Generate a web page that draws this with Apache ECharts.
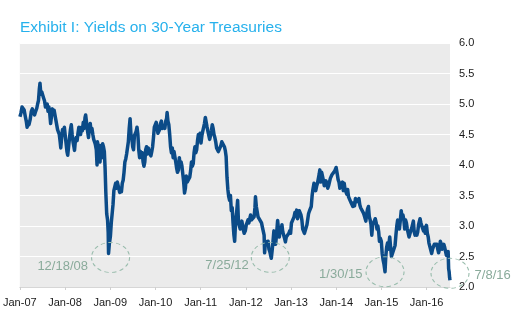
<!DOCTYPE html>
<html>
<head>
<meta charset="utf-8">
<script src="https://cdn.jsdelivr.net/npm/echarts@6/dist/echarts.min.js"></script>
<style>
  html, body { margin: 0; padding: 0; background: #ffffff; }
  #chart { width: 518px; height: 327px; }
</style>
</head>
<body>
<div id="chart"></div>
<script>
// 30-year Treasury yields (%), sampled roughly weekly
const y2007 = [
  ['2007-01-02',4.79],['2007-01-10',4.85],['2007-01-19',4.95],['2007-01-26',4.98],['2007-02-05',4.90],
  ['2007-02-14',4.80],['2007-02-22',4.72],['2007-03-01',4.62],['2007-03-09',4.70],['2007-03-16',4.66],
  ['2007-03-26',4.75],['2007-04-04',4.88],['2007-04-12',4.92],['2007-04-20',4.86],['2007-04-30',4.82],
  ['2007-05-09',4.88],['2007-05-18',4.93],['2007-05-25',5.00],['2007-06-01',5.06],['2007-06-08',5.25],
  ['2007-06-13',5.34],['2007-06-20',5.16],['2007-06-27',5.20],['2007-07-05',5.22],['2007-07-12',5.10],
  ['2007-07-20',5.05],['2007-07-27',4.95],['2007-08-03',4.94],['2007-08-10',5.00],['2007-08-17',4.88],
  ['2007-08-24',4.95],['2007-08-31',4.84],['2007-09-07',4.68],['2007-09-14',4.80],['2007-09-21',4.92],
  ['2007-09-28',4.84],['2007-10-05',4.90],['2007-10-12',4.88],['2007-10-19',4.74],['2007-10-26',4.72],
  ['2007-11-02',4.58],['2007-11-09',4.56],['2007-11-16',4.50],['2007-11-23',4.38],['2007-11-28',4.28],
  ['2007-12-05',4.45],['2007-12-12',4.58],['2007-12-19',4.50],['2007-12-27',4.62]
];
const y2008 = [
  ['2008-01-03',4.48],['2008-01-10',4.35],['2008-01-17',4.22],['2008-01-23',4.16],['2008-01-31',4.32],
  ['2008-02-07',4.45],['2008-02-14',4.58],['2008-02-21',4.66],['2008-02-28',4.50],['2008-03-06',4.38],
  ['2008-03-13',4.30],['2008-03-18',4.24],['2008-03-25',4.40],['2008-04-01',4.45],['2008-04-08',4.40],
  ['2008-04-15',4.52],['2008-04-22',4.62],['2008-04-29',4.56],['2008-05-06',4.50],['2008-05-13',4.62],
  ['2008-05-20',4.56],['2008-05-28',4.70],['2008-06-04',4.60],['2008-06-11',4.78],['2008-06-16',4.82],
  ['2008-06-24',4.68],['2008-07-01',4.56],['2008-07-09',4.45],['2008-07-16',4.60],['2008-07-23',4.68],
  ['2008-07-30',4.55],['2008-08-06',4.60],['2008-08-13',4.50],['2008-08-20',4.42],['2008-08-27',4.38],
  ['2008-09-03',4.33],['2008-09-10',4.25],['2008-09-16',4.00],['2008-09-19',4.38],['2008-09-26',4.32],
  ['2008-10-03',4.10],['2008-10-10',4.05],['2008-10-17',4.32],['2008-10-24',4.12],['2008-10-31',4.35],
  ['2008-11-07',4.30],['2008-11-14',4.22],['2008-11-20',3.95],['2008-11-26',3.55],['2008-12-03',3.20],
  ['2008-12-10',3.10],['2008-12-15',2.90],['2008-12-18',2.55],['2008-12-24',2.70],['2008-12-31',2.68]
];
const y2009 = [
  ['2009-01-02',2.83],['2009-01-09',3.05],['2009-01-16',3.20],['2009-01-23',3.35],['2009-01-30',3.58],
  ['2009-02-06',3.60],['2009-02-13',3.70],['2009-02-20',3.62],['2009-02-27',3.72],['2009-03-06',3.72],
  ['2009-03-13',3.70],['2009-03-18',3.55],['2009-03-25',3.62],['2009-04-01',3.56],['2009-04-08',3.70],
  ['2009-04-15',3.75],['2009-04-22',3.88],['2009-04-29',4.05],['2009-05-06',4.10],['2009-05-13',4.18],
  ['2009-05-20',4.20],['2009-05-27',4.38],['2009-06-03',4.60],['2009-06-10',4.76],['2009-06-17',4.50],
  ['2009-06-24',4.45],['2009-07-01',4.30],['2009-07-08',4.25],['2009-07-15',4.48],['2009-07-22',4.45],
  ['2009-07-29',4.55],['2009-08-05',4.62],['2009-08-12',4.50],['2009-08-19',4.25],['2009-08-26',4.12],
  ['2009-09-02',4.22],['2009-09-09',4.15],['2009-09-16',4.20],['2009-09-23',4.05],['2009-09-30',3.98],
  ['2009-10-07',4.05],['2009-10-14',4.25],['2009-10-21',4.30],['2009-10-28',4.18],['2009-11-04',4.28],
  ['2009-11-11',4.22],['2009-11-18',4.20],['2009-11-25',4.15],['2009-12-02',4.22],['2009-12-09',4.30],
  ['2009-12-16',4.45],['2009-12-23',4.62],['2009-12-31',4.64]
];
const y2010 = [
  ['2010-01-07',4.70],['2010-01-14',4.62],['2010-01-21',4.52],['2010-01-28',4.55],['2010-02-04',4.58],
  ['2010-02-11',4.68],['2010-02-18',4.72],['2010-02-25',4.60],['2010-03-04',4.62],['2010-03-11',4.65],
  ['2010-03-18',4.60],['2010-03-25',4.72],['2010-04-01',4.76],['2010-04-05',4.86],['2010-04-12',4.72],
  ['2010-04-19',4.66],['2010-04-26',4.50],['2010-05-03',4.30],['2010-05-10',4.20],['2010-05-17',4.28],
  ['2010-05-24',4.12],['2010-05-31',4.22],['2010-06-07',4.20],['2010-06-14',4.05],['2010-06-21',3.95],
  ['2010-06-28',3.88],['2010-07-06',3.92],['2010-07-13',4.12],['2010-07-20',3.98],['2010-07-27',4.05],
  ['2010-08-03',3.98],['2010-08-10',3.85],['2010-08-17',3.72],['2010-08-24',3.54],['2010-08-31',3.62],
  ['2010-09-07',3.82],['2010-09-14',3.72],['2010-09-21',3.75],['2010-09-28',3.70],['2010-10-05',3.80],
  ['2010-10-12',3.90],['2010-10-19',4.05],['2010-10-26',3.98],['2010-11-02',4.02],['2010-11-09',4.20],
  ['2010-11-16',4.30],['2010-11-23',4.20],['2010-11-30',4.25],['2010-12-07',4.40],['2010-12-14',4.50],
  ['2010-12-21',4.46],['2010-12-28',4.52]
];
const y2011 = [
  ['2011-01-04',4.36],['2011-01-11',4.48],['2011-01-18',4.55],['2011-01-25',4.58],['2011-02-01',4.68],
  ['2011-02-08',4.78],['2011-02-15',4.70],['2011-02-22',4.62],['2011-03-01',4.55],['2011-03-08',4.58],
  ['2011-03-15',4.42],['2011-03-22',4.48],['2011-03-29',4.56],['2011-04-05',4.66],['2011-04-12',4.60],
  ['2011-04-19',4.50],['2011-04-26',4.45],['2011-05-03',4.38],['2011-05-10',4.28],['2011-05-17',4.25],
  ['2011-05-24',4.22],['2011-05-31',4.20],['2011-06-07',4.22],['2011-06-14',4.32],['2011-06-21',4.38],
  ['2011-06-28',4.40],['2011-07-05',4.36],['2011-07-12',4.30],['2011-07-19',4.24],['2011-07-26',4.14],
  ['2011-08-02',3.80],['2011-08-09',3.60],['2011-08-16',3.48],['2011-08-23',3.42],['2011-08-30',3.50],
  ['2011-09-06',3.25],['2011-09-13',3.30],['2011-09-20',3.05],['2011-09-27',2.85],['2011-10-03',2.75],
  ['2011-10-11',3.10],['2011-10-18',3.20],['2011-10-27',3.42],['2011-11-03',3.05],['2011-11-10',3.00],
  ['2011-11-17',2.95],['2011-11-23',2.92],['2011-11-30',3.08],['2011-12-07',3.05],['2011-12-14',2.92],
  ['2011-12-19',2.88],['2011-12-28',2.92]
];
const y2012 = [
  ['2012-01-05',3.02],['2012-01-12',3.00],['2012-01-19',3.10],['2012-01-26',3.05],['2012-02-02',3.12],
  ['2012-02-09',3.18],['2012-02-16',3.10],['2012-02-23',3.10],['2012-03-01',3.12],['2012-03-08',3.15],
  ['2012-03-15',3.30],['2012-03-19',3.48],['2012-03-26',3.32],['2012-04-02',3.35],['2012-04-09',3.15],
  ['2012-04-16',3.12],['2012-04-23',3.10],['2012-04-30',3.12],['2012-05-07',3.05],['2012-05-14',2.98],
  ['2012-05-21',2.95],['2012-05-28',2.85],['2012-06-01',2.56],['2012-06-08',2.75],['2012-06-15',2.72],
  ['2012-06-22',2.70],['2012-06-29',2.75],['2012-07-06',2.62],['2012-07-13',2.58],['2012-07-20',2.55],
  ['2012-07-25',2.47],['2012-08-01',2.60],['2012-08-08',2.75],['2012-08-15',2.92],['2012-08-22',2.85],
  ['2012-08-29',2.70],['2012-09-05',2.85],['2012-09-14',3.09],['2012-09-21',2.95],['2012-09-28',2.82],
  ['2012-10-05',2.95],['2012-10-12',2.90],['2012-10-19',3.02],['2012-10-26',2.90],['2012-11-02',2.88],
  ['2012-11-09',2.80],['2012-11-16',2.74],['2012-11-23',2.82],['2012-11-30',2.80],['2012-12-07',2.80],
  ['2012-12-14',2.88],['2012-12-21',2.92],['2012-12-28',2.88]
];
const y2013 = [
  ['2013-01-04',3.05],['2013-01-11',3.05],['2013-01-18',3.02],['2013-01-25',3.15],['2013-02-01',3.22],
  ['2013-02-08',3.18],['2013-02-15',3.26],['2013-02-22',3.12],['2013-03-01',3.10],['2013-03-08',3.25],
  ['2013-03-15',3.22],['2013-03-22',3.18],['2013-03-29',3.10],['2013-04-05',2.95],['2013-04-12',2.98],
  ['2013-04-19',2.88],['2013-04-26',2.90],['2013-05-02',2.85],['2013-05-09',3.02],['2013-05-16',3.05],
  ['2013-05-22',3.20],['2013-05-30',3.25],['2013-06-06',3.28],['2013-06-13',3.32],['2013-06-20',3.50],
  ['2013-06-25',3.58],['2013-07-05',3.70],['2013-07-12',3.62],['2013-07-19',3.58],['2013-07-26',3.65],
  ['2013-08-02',3.70],['2013-08-09',3.72],['2013-08-16',3.85],['2013-08-21',3.92],['2013-08-28',3.72],
  ['2013-09-05',3.88],['2013-09-12',3.85],['2013-09-19',3.75],['2013-09-26',3.66],['2013-10-03',3.70],
  ['2013-10-10',3.74],['2013-10-17',3.68],['2013-10-24',3.62],['2013-10-31',3.66],['2013-11-07',3.72],
  ['2013-11-14',3.78],['2013-11-21',3.80],['2013-11-27',3.84],['2013-12-05',3.86],['2013-12-12',3.82],
  ['2013-12-19',3.90],['2013-12-31',3.96]
];
const y2014 = [
  ['2014-01-02',3.95],['2014-01-09',3.85],['2014-01-16',3.76],['2014-01-23',3.72],['2014-01-30',3.62],
  ['2014-02-06',3.68],['2014-02-13',3.70],['2014-02-20',3.72],['2014-02-27',3.58],['2014-03-06',3.70],
  ['2014-03-13',3.60],['2014-03-20',3.62],['2014-03-27',3.52],['2014-04-03',3.60],['2014-04-10',3.48],
  ['2014-04-17',3.50],['2014-04-24',3.45],['2014-05-01',3.38],['2014-05-08',3.40],['2014-05-15',3.32],
  ['2014-05-22',3.38],['2014-05-29',3.33],['2014-06-05',3.45],['2014-06-12',3.47],['2014-06-19',3.40],
  ['2014-06-26',3.38],['2014-07-03',3.45],['2014-07-10',3.35],['2014-07-17',3.30],['2014-07-24',3.32],
  ['2014-07-31',3.28],['2014-08-07',3.22],['2014-08-14',3.18],['2014-08-21',3.20],['2014-08-28',3.08],
  ['2014-09-04',3.20],['2014-09-11',3.28],['2014-09-18',3.32],['2014-09-25',3.15],['2014-10-02',3.10],
  ['2014-10-09',3.02],['2014-10-15',2.85],['2014-10-22',3.02],['2014-10-29',3.05],['2014-11-05',3.08],
  ['2014-11-12',3.12],['2014-11-19',3.06],['2014-11-26',2.95],['2014-12-03',3.00],['2014-12-10',2.90],
  ['2014-12-16',2.75],['2014-12-23',2.80],['2014-12-31',2.75]
];
const y2015 = [
  ['2015-01-07',2.55],['2015-01-14',2.45],['2015-01-21',2.38],['2015-01-30',2.25],['2015-02-05',2.50],
  ['2015-02-12',2.65],['2015-02-19',2.72],['2015-02-26',2.62],['2015-03-05',2.75],['2015-03-09',2.82],
  ['2015-03-16',2.65],['2015-03-23',2.50],['2015-03-31',2.55],['2015-04-07',2.58],['2015-04-14',2.55],
  ['2015-04-21',2.68],['2015-04-28',2.85],['2015-05-05',3.00],['2015-05-12',3.10],['2015-05-19',3.05],
  ['2015-05-26',2.95],['2015-06-02',3.08],['2015-06-10',3.25],['2015-06-17',3.12],['2015-06-24',3.18],
  ['2015-07-01',3.10],['2015-07-08',2.95],['2015-07-15',3.10],['2015-07-22',3.05],['2015-07-29',2.95],
  ['2015-08-05',2.92],['2015-08-12',2.82],['2015-08-19',2.82],['2015-08-26',2.92],['2015-09-02',2.96],
  ['2015-09-09',2.98],['2015-09-16',3.08],['2015-09-23',2.90],['2015-09-30',2.85],['2015-10-07',2.90],
  ['2015-10-14',2.85],['2015-10-21',2.90],['2015-10-28',3.02],['2015-11-04',3.05],['2015-11-09',3.12],
  ['2015-11-16',3.05],['2015-11-23',3.00],['2015-11-30',2.96],['2015-12-07',2.92],['2015-12-14',2.98],
  ['2015-12-21',2.88],['2015-12-31',3.01]
];
const y2016 = [
  ['2016-01-07',2.88],['2016-01-14',2.82],['2016-01-20',2.72],['2016-01-27',2.75],['2016-02-03',2.72],
  ['2016-02-11',2.55],['2016-02-18',2.62],['2016-02-25',2.62],['2016-03-03',2.70],['2016-03-10',2.70],
  ['2016-03-17',2.72],['2016-03-24',2.70],['2016-03-31',2.62],['2016-04-07',2.56],['2016-04-14',2.62],
  ['2016-04-21',2.75],['2016-04-28',2.70],['2016-05-05',2.62],['2016-05-12',2.60],['2016-05-19',2.70],
  ['2016-05-26',2.65],['2016-06-02',2.65],['2016-06-09',2.52],['2016-06-16',2.50],['2016-06-23',2.58],
  ['2016-06-27',2.30],['2016-07-01',2.25],['2016-07-05',2.15],['2016-07-08',2.11]
];

// Annotated lows: [date, yield, label]
const lows = [
  ['2008-12-18', 2.55, '12/18/08'],
  ['2012-07-25', 2.47, '7/25/12'],
  ['2015-01-30', 2.25, '1/30/15'],
  ['2016-07-08', 2.11, '7/8/16']
];

// Year ticks on the date axis
const tickYears = [2007, 2008, 2009, 2010, 2011, 2012, 2013, 2014, 2015, 2016];
const yTicks = { min: 2.0, max: 6.0, step: 0.5 };

// dates -> epoch ms so the x axis can be a plain numeric scale
function toStamp(s) {
  const p = s.split('-').map(Number);
  return new Date(p[0], p[1] - 1, p[2]).getTime();
}
const series = [].concat(y2007, y2008, y2009, y2010, y2011, y2012, y2013, y2014, y2015, y2016)
  .map(d => [toStamp(d[0]), d[1]]);
const tickStamps = tickYears.map(y => new Date(y, 0, 1).getTime());

const noteColor = '#8aab9b';
const ringStyle = {
  color: 'rgba(0,0,0,0)',
  borderColor: '#98bcac',
  borderWidth: 1,
  borderType: [4, 3]
};
// per-note placement of ring and text
const notePlacement = [
  { offset: [2, 4],  labelPos: 'left',  dist: 3, lOff: [0, 9] },
  { offset: [-1, -1], labelPos: 'left', dist: 2, lOff: [0, 8] },
  { offset: [0, 0],  labelPos: 'left',  dist: 3, lOff: [0, 3] },
  { offset: [0, -7], labelPos: 'right', dist: 5, lOff: [0, 2] }
];

const chart = echarts.init(document.getElementById('chart'), null, { renderer: 'canvas' });
chart.setOption({
  animation: false,
  backgroundColor: '#ffffff',
  title: {
    text: 'Exhibit I: Yields on 30-Year Treasuries',
    left: 15,
    top: 15,
    textStyle: {
      fontFamily: 'Liberation Sans',
      fontSize: 15.5,
      fontWeight: 'normal',
      color: '#27b1ec'
    }
  },
  grid: {
    left: 19, right: 68, top: 43, bottom: 40,
    show: true,
    backgroundColor: '#ebebeb',
    borderWidth: 0
  },
  xAxis: {
    type: 'value',
    min: new Date(2007, 0, 1).getTime(),
    max: new Date(2016, 6, 8).getTime(),
    axisLine: { show: true, lineStyle: { color: '#d6d6d6', width: 1 } },
    axisTick: { show: true, customValues: tickStamps, length: 3, lineStyle: { color: '#cfcfcf' } },
    axisLabel: {
      customValues: tickStamps,
      formatter: function (v) {
        const d = new Date(v);
        return 'Jan-' + String(d.getFullYear() % 100).padStart(2, '0');
      },
      fontFamily: 'Liberation Sans',
      fontSize: 11,
      color: '#1a1a1a',
      margin: 10
    },
    splitLine: { show: false }
  },
  yAxis: {
    type: 'value',
    position: 'right',
    min: yTicks.min,
    max: yTicks.max,
    interval: yTicks.step,
    axisLine: { show: false },
    axisTick: { show: false },
    axisLabel: {
      formatter: v => v.toFixed(1),
      fontFamily: 'Liberation Sans',
      fontSize: 11,
      color: '#1a1a1a',
      margin: 9
    },
    splitLine: { show: true, lineStyle: { color: '#ffffff', width: 1 } }
  },
  series: [{
    type: 'line',
    data: series,
    showSymbol: false,
    symbol: 'none',
    lineStyle: { color: '#0b4b88', width: 3.5, join: 'round' },
    markPoint: {
      silent: true,
      data: lows.map((n, i) => ({
        coord: [toStamp(n[0]), n[1]],
        symbol: 'circle',
        symbolSize: [38, 30],
        symbolOffset: notePlacement[i].offset,
        itemStyle: ringStyle,
        label: {
          show: true,
          formatter: n[2],
          position: notePlacement[i].labelPos,
          distance: notePlacement[i].dist,
          offset: notePlacement[i].lOff,
          fontFamily: 'Liberation Sans',
          fontSize: 13,
          color: noteColor
        }
      }))
    }
  }]
});
</script>
</body>
</html>
